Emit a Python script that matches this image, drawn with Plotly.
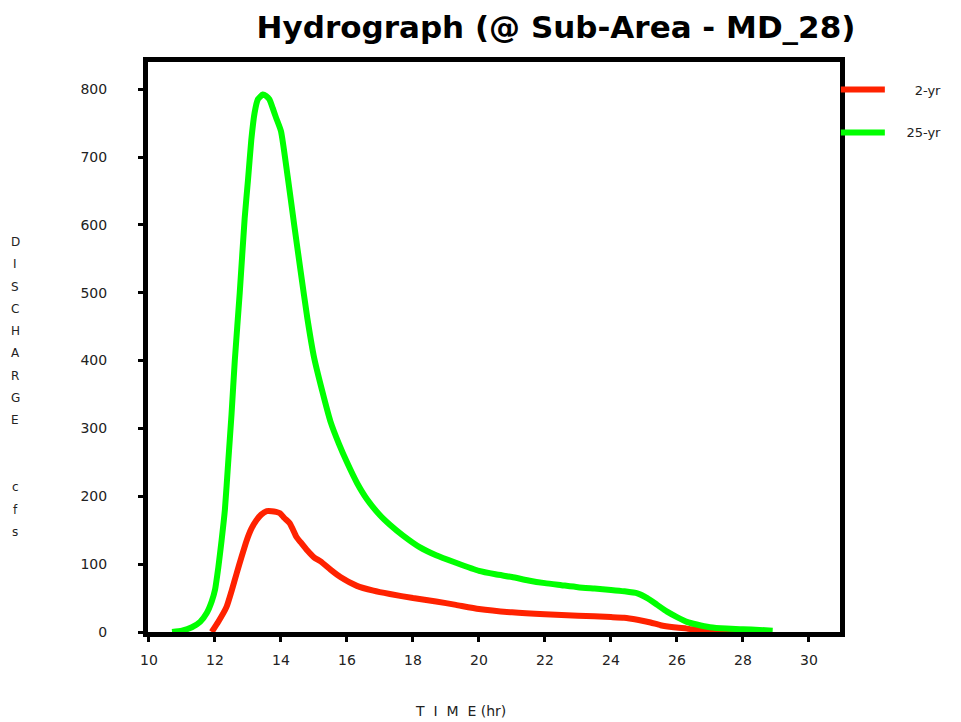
import plotly.graph_objects as go

# ---- data ----
time_2yr = [11.9, 12.1, 12.35, 12.5, 12.66, 12.8, 12.96, 13.1, 13.26, 13.4, 13.57, 13.72, 13.85,
            13.97, 14.1, 14.27, 14.47, 14.6, 14.8, 15.0, 15.2, 15.5, 15.8, 16.3, 16.8, 17.3, 18.0,
            18.7, 19.3, 20.0, 21.0, 22.0, 23.0, 24.0, 24.4, 24.8, 25.2, 25.5, 25.9, 26.3, 26.8,
            27.3, 27.9]
q_2yr = [0, 15, 37, 60, 87, 110, 135, 152, 165, 173, 178, 178, 177,
         175, 168, 160, 140, 132, 120, 110, 104, 92, 81, 68, 61, 56, 50,
         45, 40, 34, 29, 26, 24, 22, 21, 18, 14, 10, 7, 5, 2,
         1, 0]

time_25yr = [10.7, 11.0, 11.3, 11.55, 11.75, 11.9, 12.0, 12.1, 12.2, 12.3, 12.4, 12.5, 12.6,
             12.75, 12.9, 13.0, 13.1, 13.2, 13.3, 13.45, 13.55, 13.65, 13.75, 13.85, 14.0, 14.2,
             14.4, 14.6, 14.8, 15.0, 15.25, 15.5, 15.75, 16.0, 16.3, 16.6, 17.0, 17.3, 17.7,
             18.2, 18.7, 19.3, 20.0, 20.5, 21.0, 21.5, 22.0, 22.5, 23.0, 23.5, 24.0, 24.4, 24.8,
             25.1, 25.4, 25.7, 26.0, 26.3, 26.6, 27.0, 27.5, 28.0, 28.5, 28.9]
q_25yr = [0, 2, 7, 15, 28, 45, 62, 95, 135, 180, 250, 320, 400,
          500, 610, 666, 725, 765, 785, 792, 790, 785, 772, 758, 738, 672,
          600, 530, 462, 405, 355, 310, 278, 250, 220, 196, 172, 158, 142,
          125, 113, 102, 90, 85, 81, 76, 72, 69, 66, 64, 62, 60, 57,
          50, 40, 30, 22, 15, 11, 7, 5, 4, 3, 2]

x_ticks = [10, 12, 14, 16, 18, 20, 22, 24, 26, 28, 30]
y_ticks = [0, 100, 200, 300, 400, 500, 600, 700, 800]
series_names = ["2-yr", "25-yr"]
series_colors = ["#ff2200", "#00ff00"]
y_title_letters = ["D", "I", "S", "C", "H", "A", "R", "G", "E", "", "", "c", "f", "s"]

legend_pad = [6, 4]  # non-breaking spaces before legend text (right-aligned look)

fig = go.Figure()
for i, (t, q) in enumerate([(time_2yr, q_2yr), (time_25yr, q_25yr)]):
    fig.add_trace(go.Scatter(
        x=t, y=q, mode="lines",
        name="&nbsp;" * legend_pad[i] + series_names[i], legendgroup=series_names[i],
        line=dict(color=series_colors[i], width=6, shape="spline", smoothing=0.5),
    ))

W, H = 961, 722
L, R, T, B = 148, 121, 62, 90

axis_common = dict(
    showline=True, linecolor="black", linewidth=5, mirror=True,
    showgrid=False, zeroline=False,
    ticks="outside", ticklen=5, tickwidth=3, tickcolor="black",
    tickfont=dict(family="DejaVu Sans", size=14, color="#222"),
)

fig.update_layout(
    width=W, height=H,
    margin=dict(l=L, r=R, t=T, b=B, autoexpand=False),
    paper_bgcolor="white", plot_bgcolor="white",
    title=dict(text="<b>Hydrograph (@ Sub-Area - MD_28)</b>",
               font=dict(family="DejaVu Sans", size=31, color="black"),
               x=556 / W, xanchor="center", y=1 - 27 / H, yanchor="middle"),
    xaxis=dict(range=[9.97, 30.94], tickvals=x_ticks, ticklabelstandoff=6, **axis_common),
    yaxis=dict(range=[0, 840], tickvals=y_ticks, ticklabelstandoff=28, **axis_common),
    showlegend=True,
    legend=dict(x=0.994, xanchor="left", y=0.978, yanchor="top",
                font=dict(family="DejaVu Sans", size=13, color="#222"),
                tracegroupgap=23, bgcolor="rgba(0,0,0,0)", itemwidth=44),
)

ph = H - T - B
for k, ch in enumerate(y_title_letters):
    if not ch:
        continue
    ypix = 242 + k * 22.3
    fig.add_annotation(text=ch, xref="paper", yref="paper",
                       x=(15 - L) / (W - L - R), y=(H - B - ypix) / ph,
                       showarrow=False, xanchor="center", yanchor="middle",
                       font=dict(family="DejaVu Sans", size=12, color="#222"))

fig.add_annotation(text="T&nbsp;&nbsp;I&nbsp;&nbsp;M&nbsp;&nbsp;E&nbsp;(hr)", xref="paper", yref="paper",
                   x=(460 - L) / (W - L - R), y=-(711 - (H - B)) / ph,
                   showarrow=False, xanchor="center", yanchor="middle",
                   font=dict(family="DejaVu Sans", size=14, color="#222"))

fig.write_html("out.html", config={"displayModeBar": False},
               post_script="document.body.style.margin='0px';")
